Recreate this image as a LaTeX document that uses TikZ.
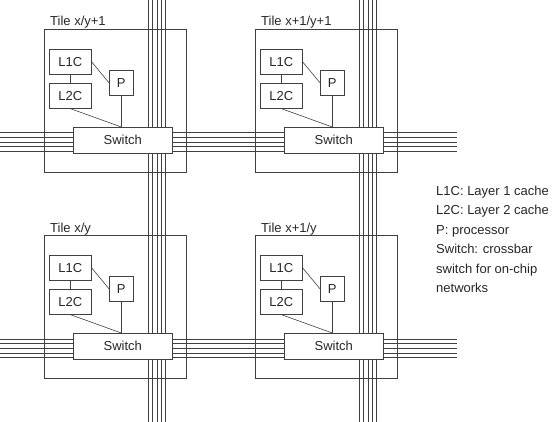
\documentclass[tikz,border=0pt]{standalone}
\usepackage{fontspec}
\setmainfont{Liberation Sans}
\usetikzlibrary{calc}
\tikzset{
	wire/.style={draw=black!75, line width=0.6pt},
	unit/.style={wire, anchor=north west, inner sep=0pt, font=\fontsize{13}{15}\selectfont, text=black!85},
}
\newcommand{\maketile}[4]{
	\begin{scope}[shift={(#2,#3)}]
	\draw[wire] (0,0) rectangle (142,143);
	\node[anchor=base west, inner sep=0pt, font=\fontsize{13}{15}\selectfont, text=black!85] (#1title) at (6,-3) {Tile #4};
	\node[unit, minimum width=42pt, minimum height=25pt] (#1ltwo) at (5,54) {L2C};
	\node[unit, minimum width=42pt, minimum height=25pt] (#1lone) at (5,20) {L1C};
	\node[unit, minimum width=24pt, minimum height=25pt] (#1p) at (65,41) {P};
	\node[unit, fill=white, minimum width=99pt, minimum height=26pt] (#1sw) at (29,98) {Switch};
	\coordinate (#1top) at (#1p.south |- #1sw.north);
	\draw[wire] (#1lone) -- (#1ltwo);
	\draw[wire] (#1lone.east) -- (#1p.west);
	\draw[wire] (#1p.south) -- (#1top);
	\draw[wire] (#1ltwo.south) -- (#1top);
	\end{scope}
}

\begin{document}
\begin{tikzpicture}[x=1pt,y=-1pt]
	\useasboundingbox (0,0) rectangle (553,422);

	% network wires
	\foreach \bx in {148,359}
		\foreach \i in {0,...,4}
			\draw[wire] ({\bx+4.4*\i},0) -- ({\bx+4.4*\i},422);
	\foreach \by in {132.8,339}
		\foreach \i in {0,...,4}
			\draw[wire] (0,{\by+4.6*\i}) -- (457,{\by+4.6*\i});

	\maketile{a}{44}{29}{x/y+1}
	\maketile{b}{255}{29}{x+1/y+1}
	\maketile{c}{44}{235}{x/y}
	\maketile{d}{255}{235}{x+1/y}

	\node[anchor=base west, inner sep=0pt, align=left, text=black!85,
		font=\fontsize{13}{19.5}\selectfont] (legend) at (436,292.5)
		{L1C: Layer 1 cache\\L2C: Layer 2 cache\\P: processor\\Switch: crossbar\\switch for on-chip\\networks};
\end{tikzpicture}
\end{document}
